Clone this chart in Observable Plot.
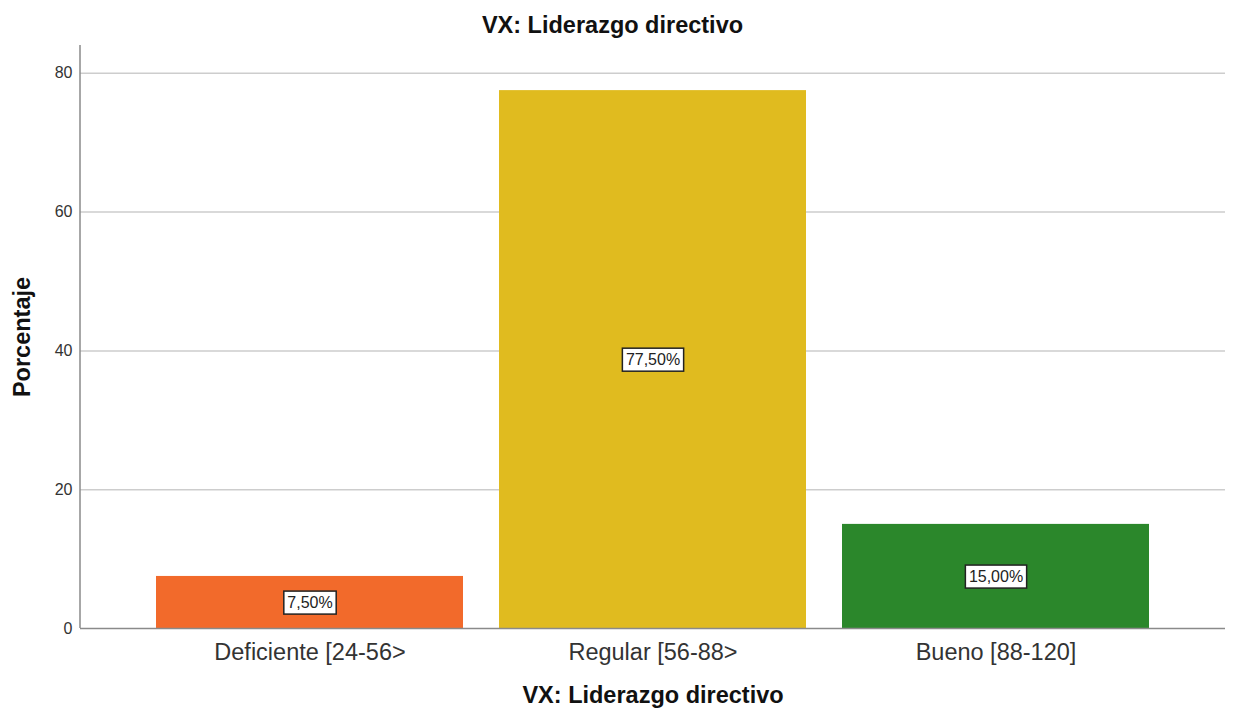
<!DOCTYPE html>
<html><head><meta charset="utf-8">
<script src="https://cdn.jsdelivr.net/npm/d3@7"></script>
<script src="https://cdn.jsdelivr.net/npm/@observablehq/plot@0.6"></script>
<style>
body{margin:0;background:#fff;font-family:"Liberation Sans",Arial,sans-serif;}
#title{height:42px;line-height:50px;text-align:center;font-weight:bold;font-size:23.5px;color:#111;padding-right:8px;box-sizing:border-box;width:1233px;white-space:nowrap;}
</style></head><body>
<div id="title">VX: Liderazgo directivo</div>
<div id="chart"></div>
<script>
const categories = ["Deficiente [24-56>", "Regular [56-88>", "Bueno [88-120]"];
const percentages = [7.5, 77.5, 15.0];
const valueLabels = ["7,50%", "77,50%", "15,00%"];
const colors = ["#f26a2b", "#e0bb1f", "#2b872b"];
const yTicks = [0, 20, 40, 60, 80];
const gridTicks = [20, 40, 60, 80];
const xTitle = "VX: Liderazgo directivo";
const yTitle = "Porcentaje";

const data = categories.map((c, i) => ({category: c, value: percentages[i], half: percentages[i] / 2, label: valueLabels[i]}));

const chart = Plot.plot({
  width: 1233,
  height: 668,
  marginTop: 3,
  marginBottom: 82,
  marginLeft: 80,
  marginRight: 8,
  style: {fontFamily: "Liberation Sans, Arial, sans-serif", background: "#fff"},
  x: {domain: categories, paddingInner: 0.105, paddingOuter: 0.217, label: null},
  y: {domain: [0, 84], label: null},
  color: {domain: categories, range: colors},
  marks: [
    Plot.gridY(gridTicks, {stroke: "#cdcdcd", strokeOpacity: 1, strokeWidth: 1.5}),
    Plot.barY(data, {x: "category", y: "value", fill: "category"}),
    Plot.ruleY([0], {stroke: "#8a8a8a", strokeWidth: 1.5}),
    (index, scales, values, dimensions) => {
      const l = document.createElementNS("http://www.w3.org/2000/svg", "line");
      l.setAttribute("x1", dimensions.marginLeft);
      l.setAttribute("x2", dimensions.marginLeft);
      l.setAttribute("y1", dimensions.marginTop);
      l.setAttribute("y2", dimensions.height - dimensions.marginBottom);
      l.setAttribute("stroke", "#8a8a8a");
      l.setAttribute("stroke-width", 1.5);
      return l;
    },
    Plot.axisY(yTicks, {tickSize: 0, tickPadding: 8, fontSize: 16, fill: "#333", label: null}),
    Plot.axisX({tickSize: 0, tickPadding: 15, fontSize: 23.5, fill: "#333", label: null}),
    Plot.text(data, {x: "category", y: "half", text: "label", fontSize: 16, fill: "#222"}),
    Plot.text([xTitle], {text: d => d, frameAnchor: "bottom", lineAnchor: "bottom", dy: 74, fontSize: 23.5, fontWeight: "bold", fill: "#111"}),
    Plot.text([yTitle], {text: d => d, frameAnchor: "left", textAnchor: "middle", rotate: -90, dx: -58, fontSize: 23.5, fontWeight: "bold", fill: "#111"})
  ]
});
document.getElementById("chart").appendChild(chart);

// white boxes behind value labels
const svgNS = "http://www.w3.org/2000/svg";
chart.querySelectorAll("text").forEach(t => {
  if (!valueLabels.includes(t.textContent)) return;
  const b = t.getBBox();
  const r = document.createElementNS(svgNS, "rect");
  r.setAttribute("x", b.x - 3.5);
  r.setAttribute("y", b.y - 2.5);
  r.setAttribute("width", b.width + 7);
  r.setAttribute("height", b.height + 6);
  r.setAttribute("fill", "#fff");
  r.setAttribute("stroke", "#222");
  r.setAttribute("stroke-width", 1.5);
  const tr = t.getAttribute("transform");
  if (tr) r.setAttribute("transform", tr);
  t.parentNode.insertBefore(r, t);
});
</script>
</body></html>
